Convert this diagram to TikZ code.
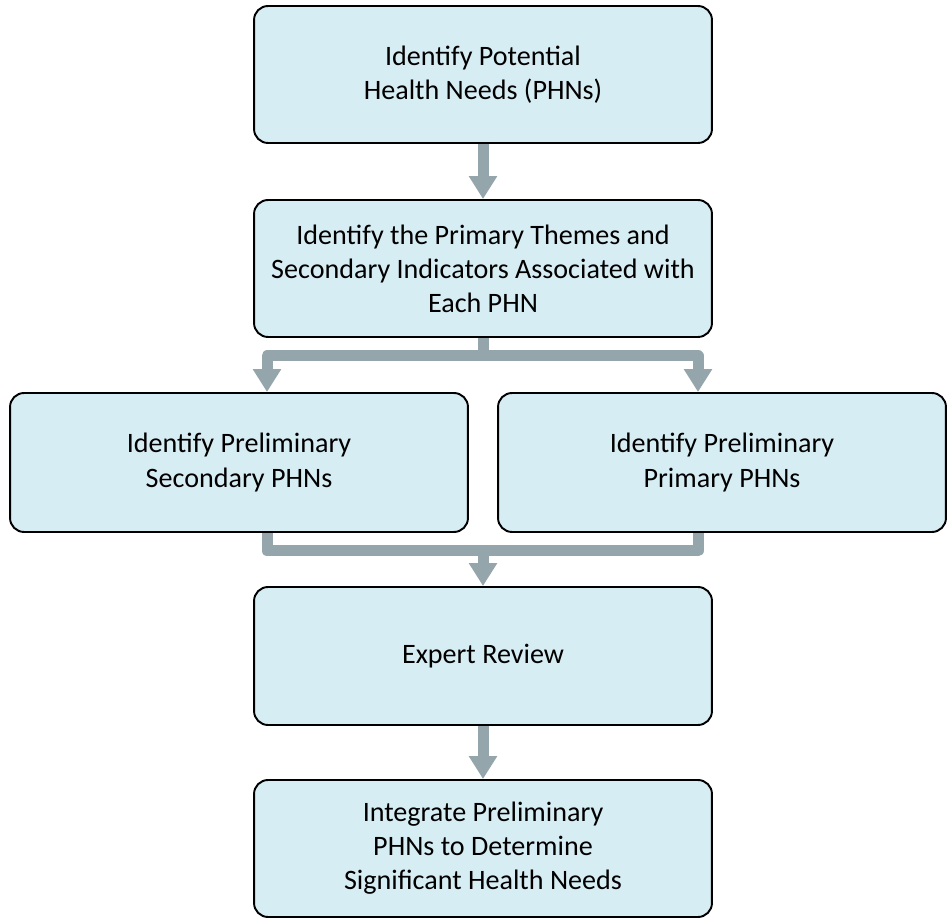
\documentclass[tikz,border=0pt]{standalone}
\usepackage{fontspec}
\setmainfont{Carlito}
\usetikzlibrary{arrows.meta}
\definecolor{boxfill}{HTML}{D7EDF4}
\definecolor{arrowgrey}{HTML}{94A6AB}
\tikzset{
    phnbox/.style={draw=black, line width=1.1pt, fill=boxfill, rounded corners=0.28cm,
        align=center, minimum width=9.16cm, minimum height=2.74cm,
        font=\fontsize{16}{19.4}\selectfont},
    flowline/.style={draw=arrowgrey, line width=0.22cm, line join=round},
    flowtip/.tip={Triangle[width=0.54cm, length=0.46cm]},
    flow/.style={flowline, -flowtip},
    flowboth/.style={flowline, flowtip-flowtip}
}

\begin{document}
\begin{tikzpicture}[x=0.02cm, y=-0.02cm]

        \useasboundingbox (0,0) rectangle (947,918);

        \node[phnbox] (potential) at (483,74.5) {Identify Potential\\Health Needs (PHNs)};
        \node[phnbox] (themes) at (483,268.5) {Identify the Primary Themes and\\Secondary Indicators Associated with\\Each PHN};
        \node[phnbox, minimum height=2.78cm] (secondary) at (239,462.5) {Identify Preliminary\\Secondary PHNs};
        \node[phnbox, minimum width=8.96cm, minimum height=2.78cm] (primary) at (722,462.5) {Identify Preliminary\\Primary PHNs};
        \node[phnbox, minimum height=2.76cm] (review) at (483,656) {Expert Review};
        \node[phnbox] (integrate) at (483,848.5) {Integrate Preliminary\\PHNs to Determine\\Significant Health Needs};

        \coordinate (split) at (483,356);
        \coordinate (join) at (483,551);
        \coordinate (leftdrop) at (267,0);
        \coordinate (rightdrop) at (698,0);

        \draw[flow] (potential) -- (themes);
        \draw[flowline] (themes.south) -- (split);
        \draw[flowboth] (secondary.north -| leftdrop) |- (split) -| (primary.north -| rightdrop);
        \draw[flowline] (secondary.south -| leftdrop) |- (join) -| (primary.south -| rightdrop);
        \draw[flow] (join) -- (review.north);
        \draw[flow] (review) -- (integrate);

\end{tikzpicture}
\end{document}
